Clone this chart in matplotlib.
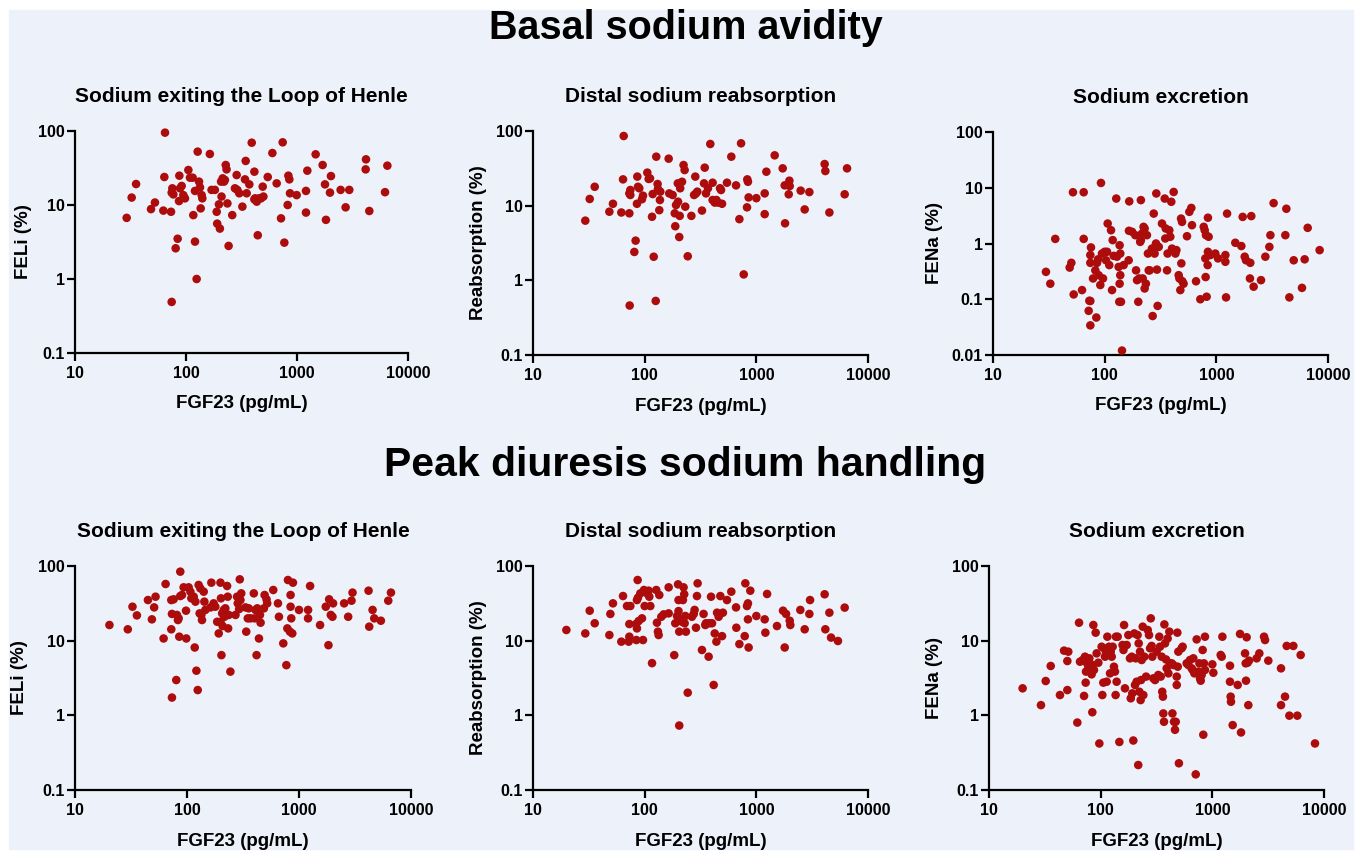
import matplotlib
matplotlib.use('Agg')
import matplotlib.pyplot as plt
from matplotlib.patches import Rectangle

plt.rcParams['font.family'] = ['Liberation Sans', 'DejaVu Sans']

# ---- Basal: sodium exiting the loop of Henle (FELi)
basal_feli_x = [64.7, 29.2, 32.4, 35.5, 48.4, 52.5, 62.5, 63.8, 73.3, 74.3, 75.3, 76.9, 80.7, 84.1, 87.1, 88.3,
                91.4, 86.5, 94.6, 97.9, 105, 108.6, 114.8, 116.4, 120.5, 120.5, 127.4, 131, 133.7, 135.6, 138.4,
                140.3, 164, 170, 182, 189, 191, 198, 202, 207, 209, 214, 220, 224, 228, 232, 236, 242, 261, 286,
                276, 290, 302, 322, 340, 345, 352, 372, 391, 413, 413, 419, 434, 443, 455, 474, 491, 498, 545,
                600, 656, 718, 743, 769, 824, 836, 853, 865, 993, 1205, 1205, 1239, 1472, 1702, 1787, 1824, 1982,
                2023, 2472, 2742, 2958, 4155, 4184, 4482, 6209, 6516, 74.3, 124.7]
basal_feli_y = [95, 6.7, 12.6, 19.2, 8.8, 10.8, 8.4, 23.9, 8.1, 14.7, 16.8, 13.9, 2.6, 3.5, 24.9, 16.8,
                18.1, 11.3, 13.6, 12.3, 29.7, 23.4, 23.4, 7.3, 3.2, 15.5, 52.6, 20.7, 17.3, 9.0, 13.6,
                12.3, 48.9, 16, 16, 8.1, 5.6, 10.2, 4.8, 20.7, 13, 22.9, 20.7, 21.8, 34.7, 30.3, 10.5, 2.8, 7.3, 25.4,
                16.8, 16, 14.4, 9.5, 22.2, 39.4, 14.4, 19, 69.5, 28.2, 11.9, 12.3, 11.1, 3.9, 12.3, 12.3, 17.7, 13, 23.9,
                50.4, 19.6, 6.6, 70.3, 3.1, 10, 24.9, 22.2, 14.4, 13.6, 7.9, 15.5, 29.1, 48.4, 34.7, 19, 6.3, 14.7,
                24.6, 16, 9.3, 16, 30.3, 41.4, 8.3, 14.9, 34, 0.49, 1.0]

# ---- Basal: distal sodium reabsorption
basal_reab_x = [64.9, 29.4, 32.2, 35.7, 48.3, 52, 61.8, 64, 72.9, 74.4, 74.4, 72.9, 80.8, 83, 85.3, 85.9, 87.1,
                89.5, 94.6, 96.6, 105.6, 108.6, 111.6, 116.4, 118, 120.5, 125.6, 127, 130.6, 131.5, 135.2, 137,
                138, 164, 166, 178, 186, 188, 191, 198, 199, 204, 206, 208, 216, 223, 228, 231, 243, 262, 277, 284,
                288, 296, 326, 340, 345, 354, 369, 387, 406, 406, 424, 439, 454, 473, 483, 493, 546, 597, 658, 705,
                730, 771, 825, 830, 841, 853, 1000, 1188, 1188, 1230, 1460, 1722, 1795, 1808, 1950, 1977, 1990,
                2495, 2710, 2985, 4090, 4150, 4510, 6180, 6490, 73.4]
basal_reab_y = [85.7, 6.3, 12.3, 17.9, 8.3, 10.6, 8.1, 22.5, 7.9, 16.2, 13.9, 14.6, 2.4, 3.4, 10.6, 24.5, 17.9,
                17.1, 12.2, 13.6, 27.7, 22.8, 23.2, 7.1, 14.3, 2.07, 0.53, 45.3, 19.5, 16.7, 8.7, 11.9,
                15.4, 42.6, 14.6, 13.9, 7.9, 5.3, 10.2, 19.9, 11.3, 3.8, 7.3, 17.1, 20.9, 35, 30, 9.7, 2.1, 7.3, 13.9, 24.5,
                14.6, 15.4, 8.6, 19.9, 32.3, 14.6, 17.1, 67, 20.3, 11.9, 11, 11.9, 11, 17.1, 16.2, 10.6, 20.3, 45.3, 18.7, 6.6,
                68.4, 1.2, 9.5, 22.5, 20.9, 12.9, 12.6, 7.7, 14.6, 28.5, 47.2, 31.6, 18.7, 5.8, 14.2, 21.6, 18.3,
                15.9, 8.9, 15.2, 36.1, 29.1, 8.1, 14.2, 31.6, 0.46]

# ---- Basal: sodium excretion (FENa)
basal_fena_x = [92.7, 52, 64.9, 36.1, 29.8, 32.6, 48.6, 50.3, 52.8, 64.9, 62.7, 71.9, 72.9, 74.4, 74.4, 75.4, 74.4,
                74.4, 78.7, 82.5, 84.2, 85.4, 87.2, 88.4, 91.4, 94.6, 96.6, 100, 102.8, 105, 106.4, 110, 114, 116.4,
                118, 120.5, 127, 128.8, 133.4, 136.1, 136.1, 135.2, 138, 138, 140, 142.9, 147.9, 164, 166, 165, 176,
                188, 191, 195, 200, 204, 211, 208, 211, 216, 219, 223, 228, 228, 234, 239, 244, 248, 253, 265, 269,
                275, 280, 284, 288, 290, 294, 298, 305, 326, 345, 349, 352, 362, 366, 379, 387, 395, 401, 415, 430,
                439, 460, 467, 476, 483, 486, 493, 496, 509, 546, 573, 597, 605, 658, 719, 771, 787, 797, 802, 808,
                819, 836, 841, 841, 853, 883, 979, 1035, 1205, 1205, 1222, 1248, 1479, 1675, 1722, 1795, 1845,
                2000, 2014, 2056, 2158, 2512, 2748, 2985, 3048, 3258, 4150, 4236, 4508, 4932, 5848, 6180, 6577, 8414]
basal_fena_y = [12.2, 8.3, 8.3, 1.21, 0.31, 0.19, 0.37, 0.45, 0.122, 1.21, 0.146, 0.062, 0.094, 0.093, 0.034, 0.85, 0.62,
                0.45, 0.236, 0.33, 0.047, 0.45, 0.52, 0.27, 0.18, 0.66, 0.236, 0.71, 0.50, 0.71, 2.28, 0.41, 1.73, 0.146,
                1.15, 0.60, 6.4, 0.58, 0.38, 0.93, 0.19, 0.090, 0.66, 0.27, 0.090, 0.012, 0.41, 0.50, 5.7, 1.69, 1.62,
                1.41, 0.33, 0.22, 0.090, 0.236, 6.0, 1.07, 1.15, 1.51, 0.236, 1.99, 0.156, 1.86, 0.19, 1.41, 0.66, 0.33, 0.33, 0.81, 0.050,
                3.44, 0.66, 0.87, 1.0, 7.9, 0.34, 0.076, 0.87, 2.28, 6.4, 1.23, 1.86, 0.33, 0.66, 1.73, 1.32, 5.6, 0.81, 8.4, 0.66,
                0.76, 0.27, 0.236, 0.146, 2.8, 0.44, 2.44, 0.21, 0.19, 1.35, 3.7, 4.35, 2.13, 0.21, 0.10, 1.99, 1.73, 0.54, 0.25, 1.41,
                0.111, 0.41, 2.9, 0.71, 1.32, 0.62, 0.66, 0.54, 0.47, 0.62, 0.108, 3.44, 1.03, 0.90, 3.0, 0.58, 0.50,
                0.236, 0.45, 3.1, 0.168, 0.22, 0.58, 0.87, 1.41, 5.3, 1.41, 4.2, 0.108, 0.50, 0.16, 0.52, 1.91, 0.76]

# ---- Peak diuresis: sodium exiting the loop of Henle (FELi)
peak_feli_x = [20.3, 29.6, 32.6, 35.7, 44.8, 48.6, 50.9, 52.4, 61.8, 64.4, 72.4, 72.4, 73.4, 73.4, 76, 80.2, 81.3, 83,
               84.2, 85.3, 87.1, 87.1, 90.2, 93.3, 98.6, 98, 103.5, 107.2, 109.4, 114.8, 117.2, 118.9, 121.3, 124.7,
               127, 129.7, 131.5, 134.3, 136.1, 141, 142.9, 145.9, 162, 165, 173, 179, 186, 192, 199, 199, 201, 203,
               206, 208, 213, 216, 220, 228, 231, 233, 236, 244, 271, 280, 284, 292, 296, 300, 305, 333, 338, 349,
               356, 369, 395, 401, 409, 418, 424, 439, 448, 454, 486, 493, 513, 520, 589, 649, 662, 724, 771, 787,
               797, 830, 841, 841, 853, 871, 883, 1000, 1205, 1205, 1256, 1542, 1734, 1832, 1858, 1923, 1990, 2015,
               2529, 2748, 2944, 3006, 4178, 4236, 4539, 4699, 5383, 6266, 6622]
peak_feli_y = [16.2, 14.2, 28.5, 21.8, 35, 19.3, 27.9, 38.8, 10.7, 57.4, 35, 14.2, 22.8, 1.73, 35.8, 2.97, 22.1, 18.9,
               19.9, 11.3, 39.6, 84, 40.9, 51.8, 10.7, 25.2, 51.8, 45.3, 36.9, 38.8, 8.1, 33.3, 3.96, 2.18,
               55.7, 23.2, 50.2, 22.1, 18.9, 45.3, 33.3, 25.8, 27.9, 59.8, 31.6, 28.5, 17.9, 12.5, 59.8, 17.9, 36.9, 6.4,
               23.2, 15.7, 25.8, 20.9, 27.1, 54, 38.8, 14.6, 22.1, 3.85, 22.1, 38.8, 31.6, 26.5, 66.3, 35, 43, 27.9, 13.2, 19.9,
               27.1, 19.9, 43, 19.9, 25.8, 6.4, 27.1, 10.7, 22.1, 17.4, 27.1, 40.9, 35.8, 31.6, 47.7, 31.6, 20.9, 9.2, 4.7, 14.6,
               64.9, 13.2, 40.9, 28.5, 19.9, 12.5, 59.8, 25.8, 19.9, 25.8, 54, 16.2, 28.5, 8.7, 35.8, 22.1, 20.9, 31.6,
               31.6, 20.9, 34.3, 44, 46.7, 15.4, 25.8, 19.9, 18.5, 34.3, 44]

# ---- Peak diuresis: distal sodium reabsorption
peak_reab_x = [19.9, 29.4, 32.2, 35.7, 48.3, 49.3, 52, 61.8, 64, 69.5, 71.9, 72.9, 72.9, 74.4, 83.6, 84.2, 85.3, 85.3,
               86.5, 87.1, 88.3, 91.4, 94.6, 96.6, 98.6, 100, 105, 108.6, 110, 112.4, 116.4, 127, 128.8, 131.5, 133.4,
               135.2, 141, 148, 164, 164, 184, 188, 195, 199, 201, 201, 204, 208, 216, 220, 223, 226, 228, 231, 234,
               243, 265, 275, 280, 288, 298, 294, 326, 337, 349, 354, 374, 379, 393, 401, 415, 424, 439, 445, 460,
               476, 493, 502, 546, 597, 658, 662, 705, 787, 797, 825, 841, 841, 853, 883, 1000, 1188, 1205, 1248,
               1531, 1734, 1795, 1845, 1990, 2015, 2477, 2710, 2985, 3027, 4090, 4150, 4510, 4667, 5383, 6180, 204]
peak_reab_y = [13.9, 12.5, 25.2, 17.1, 11.9, 22.8, 31.6, 9.7, 39.6, 29.1, 9.7, 11.3, 16.7, 29.1, 16.7, 10.2, 14.6, 35,
               64.9, 37.7, 18.3, 43, 19.9, 10.2, 47.7, 29.1, 43, 46.7, 38.8, 29.1, 5.0, 47.7, 17.4, 13.2, 11.9,
               40.9, 20.9, 22.5, 51.8, 23.2, 6.4, 17.1, 21.4, 56.8, 35, 24.9, 13.2, 19.3, 17.9, 35, 51.8, 41.8, 17.1, 21.4, 13.2,
               2.01, 20.9, 22.8, 25.8, 14.9, 58.6, 39.6, 7.5, 22.8, 16.2, 17.1, 6.1, 17.1, 38.8, 17.1, 2.55, 12.5, 9.7, 23.7, 20.9,
               39.6, 11.5, 23.7, 35, 45.3, 27.9, 14.9, 9.0, 11.5, 58.6, 29.1, 31.6, 19.3, 8.1, 46.7, 21.4, 19.3, 12.8, 42.2,
               15.7, 25.2, 8.1, 22.8, 18.5, 16.2, 25.8, 14.2, 22.8, 35, 41.8, 14.2, 23.7, 11, 9.9, 27.7, 0.73]

# ---- Peak diuresis: sodium excretion (FENa)
peak_fena_x = [20, 29.2, 32.2, 35.7, 43.2, 47, 50.3, 51.3, 50.3, 61.8, 64, 65.3, 69, 71, 72.4, 73.4, 73.9, 75, 77.6,
               79.2, 80.2, 83, 84.2, 84.8, 86, 87.1, 90.2, 92, 95.3, 97.3, 102, 103.5, 105.6, 107.2, 109.4, 111.6,
               113.2, 114.8, 118.9, 121.3, 123, 125.6, 128, 131.5, 134.3, 136.1, 137, 139, 142, 147, 157, 160, 162,
               165, 171, 177, 183, 186, 190, 192, 196, 200, 203, 206, 210, 214, 217, 219, 222, 225, 228, 230, 233,
               238, 241, 246, 255, 264, 271, 277, 281, 286, 290, 296, 307, 317, 328, 335, 340, 345, 352, 356, 361,
               364, 369, 372, 377, 385, 390, 398, 404, 412, 418, 433, 439, 448, 454, 463, 470, 480, 480, 486, 490,
               496, 502, 531, 542, 589, 610, 631, 653, 667, 676, 690, 710, 724, 750, 766, 776, 787, 802, 819, 830,
               841, 859, 859, 1000, 1021, 1188, 1213, 1230, 1439, 1439, 1459, 1469, 1521, 1687, 1770, 1807, 1963,
               1990, 2002, 2029, 2071, 2100, 2130, 2494, 2636, 2904, 2965, 3172, 4121, 4121, 4477, 4634, 4896,
               5312, 5768, 6180, 8304]
peak_fena_y = [2.3, 1.37, 2.88, 4.58, 1.87, 7.35, 5.34, 7.12, 2.18, 0.80, 17.4, 5.23, 5.51, 1.82, 6.1, 2.74, 3.85, 5.07, 4.48,
               5.8, 4.72, 3.54, 1.1, 4.72, 16.2, 4.05, 12.8, 6.76, 5.07, 0.42, 8.3, 1.87, 2.74, 7.9, 6.1, 6.76,
               2.82, 11.3, 8.3, 3.65, 7.12, 6.1, 8.3, 4.48, 3.85, 1.87, 11.3, 2.82, 11.3, 0.44, 8.75, 7.5, 16.2,
               2.3, 8.75, 11.9, 5.8, 1.69, 6.1, 1.97, 0.46, 12.5, 2.55, 5.8, 2.82, 11.9, 0.216, 9.2, 2.07, 7.12, 1.6, 2.97, 5.51,
               15.4, 1.87, 6.1, 3.3, 13.9, 11.9, 7.9, 19.9, 8.5, 6.1, 3.13, 2.97, 7.12, 3.47, 11.3, 8.3, 3.3, 6.1, 2.07, 1.78,
               1.06, 0.82, 16.5, 9.2, 5.6, 4.26, 10.7, 3.65, 13.2, 4.97, 4.97, 1.06, 4.72, 0.82, 0.64, 0.82, 3.3, 2.55, 12.8, 4.48,
               7.12, 0.228, 7.9, 8.3, 4.97, 4.72, 5.51, 4.26, 4.05, 5.8, 3.65, 0.162, 10.4, 3.85, 4.97, 3.13, 2.91, 3.47, 7.5, 0.55,
               4.97, 11.3, 4.05, 4.82, 3.72, 6.43, 6.1, 11.3, 4.62, 2.82, 1.78, 1.52, 0.74, 2.55, 12.3, 0.59, 6.76,
               4.97, 2.91, 11.1, 5.07, 1.37, 5.4, 5.8, 6.76, 11.3, 10.2, 5.4, 4.26, 1.37, 1.78, 8.5, 0.99,
               8.5, 0.99, 6.43, 0.42]

x_ticks = [10, 100, 1000, 10000]
x_labels = ['10', '100', '1000', '10000']
y_ticks = [0.1, 1, 10, 100]
y_labels = ['0.1', '1', '10', '100']
y_ticks_fena = [0.01, 0.1, 1, 10, 100]
y_labels_fena = ['0.01', '0.1', '1', '10', '100']

W, H = 1369, 852
dot_color = '#ad0c0c'
bg_color = '#edf1f9'


def px_box(x0, y0, x1, y1):
    # pixel box (top-left origin) -> figure fraction rect
    return [x0 / W, 1 - y1 / H, (x1 - x0) / W, (y1 - y0) / H]


def panel(rect, xs, ys, title, ylabel, yt, yl, ylab_x):
    ax = fig.add_axes(px_box(*rect))
    ax.set_facecolor('none')
    ax.scatter(xs, ys, s=38, color=dot_color, edgecolors='none', clip_on=False, zorder=3)
    ax.set_xscale('log')
    ax.set_yscale('log')
    ax.set_xlim(10, 10000)
    ax.set_ylim(yt[0], yt[-1])
    ax.set_xticks(x_ticks)
    ax.set_xticklabels(x_labels)
    ax.set_yticks(yt)
    ax.set_yticklabels(yl)
    ax.minorticks_off()
    for side in ['top', 'right']:
        ax.spines[side].set_visible(False)
    for side in ['left', 'bottom']:
        ax.spines[side].set_linewidth(1.6)
    ax.tick_params(width=1.6, length=5.5, direction='out', labelsize=11.5, pad=2)
    ax.tick_params(axis='x', pad=4)
    for lab in ax.get_xticklabels() + ax.get_yticklabels():
        lab.set_fontweight('bold')
    ax.set_title(title, fontsize=15, fontweight='bold', y=1.093)
    ax.set_xlabel('FGF23 (pg/mL)', fontsize=13.5, fontweight='bold')
    ax.xaxis.set_label_coords(0.5, -0.19)
    ax.set_ylabel(ylabel, fontsize=13.5, fontweight='bold')
    ax.yaxis.set_label_coords(ylab_x, 0.5)
    return ax


fig = plt.figure(figsize=(W / 100, H / 100), dpi=100, facecolor='white')
fig.patches.append(Rectangle((9 / W, 1 - 849 / H), (1353 - 9) / W, (849 - 10) / H,
                             transform=fig.transFigure, color=bg_color, zorder=-10))

panel((75, 131, 408, 353), basal_feli_x, basal_feli_y, 'Sodium exiting the Loop of Henle', 'FELi (%)',
      y_ticks, y_labels, -0.13)
panel((533, 131, 868, 355), basal_reab_x, basal_reab_y, 'Distal sodium reabsorption', 'Reabsorption (%)',
      y_ticks, y_labels, -0.137)
panel((993, 132, 1328, 355), basal_fena_x, basal_fena_y, 'Sodium excretion', 'FENa (%)',
      y_ticks_fena, y_labels_fena, -0.149)
panel((75, 566, 411, 790), peak_feli_x, peak_feli_y, 'Sodium exiting the Loop of Henle', 'FELi (%)',
      y_ticks, y_labels, -0.14)
panel((533, 566, 868, 790), peak_reab_x, peak_reab_y, 'Distal sodium reabsorption', 'Reabsorption (%)',
      y_ticks, y_labels, -0.137)
panel((989, 566, 1324, 790), peak_fena_x, peak_fena_y, 'Sodium excretion', 'FENa (%)',
      y_ticks, y_labels, -0.137)

fig.text(686 / W, 1 - 28 / H, 'Basal sodium avidity', ha='center', va='center', fontsize=28.5, fontweight='bold')
fig.text(685 / W, 1 - 465 / H, 'Peak diuresis sodium handling', ha='center', va='center', fontsize=29.5,
         fontweight='bold')

fig.savefig('out.png', dpi=100, facecolor=fig.get_facecolor())
